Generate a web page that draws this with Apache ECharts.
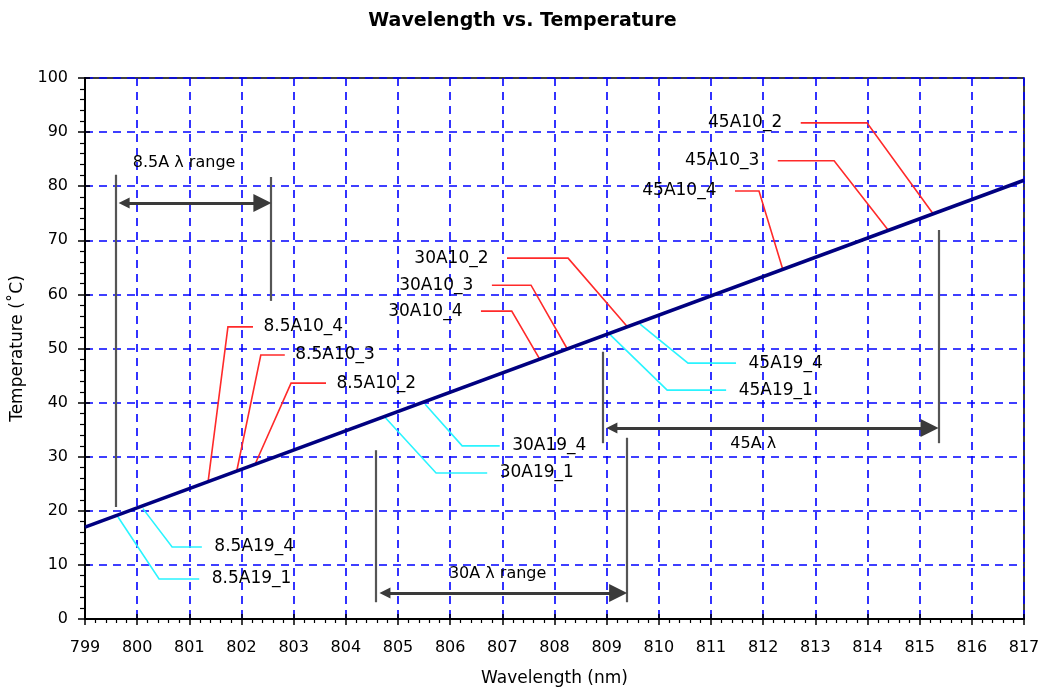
<!DOCTYPE html>
<html>
<head>
<meta charset="utf-8">
<script src="https://cdn.jsdelivr.net/npm/echarts@6/dist/echarts.min.js"></script>
<style>
  html, body { margin: 0; padding: 0; background: #fff; }
  #chart { width: 1045px; height: 692px; }
</style>
</head>
<body>
<div id="chart"></div>
<script>
// Axis ranges
const wavelengthRange = [799, 817];
const temperatureRange = [0, 100];

// Calibration line: wavelength (nm) -> temperature (°C)
const lineWavelengths = [799, 817];
const lineTemperatures = [17, 81.1];

// Red leaders (x10 devices): first point is the label end, last point sits on the line
const redNames = ['8.5A10_4', '8.5A10_3', '8.5A10_2', '30A10_2', '30A10_3', '30A10_4', '45A10_2', '45A10_3', '45A10_4'];
const redPaths = [
  [[802.22, 54.0], [801.74, 54.0], [801.36, 25.4]],
  [[802.83, 48.8], [802.37, 48.8], [801.91, 27.4]],
  [[803.62, 43.6], [802.95, 43.6], [802.26, 28.6]],
  [[807.09, 66.7], [808.26, 66.7], [809.41, 53.9]],
  [[806.80, 61.7], [807.55, 61.7], [808.24, 50.0]],
  [[806.59, 56.9], [807.18, 56.9], [807.72, 48.0]],
  [[812.72, 91.7], [813.99, 91.7], [815.25, 75.0]],
  [[812.28, 84.7], [813.36, 84.7], [814.41, 71.7]],
  [[811.46, 79.1], [811.92, 79.1], [812.38, 64.5]]
];

// Cyan leaders (x19 devices): first point is the label end, last point sits on the line
const cyanNames = ['8.5A19_4', '8.5A19_1', '30A19_4', '30A19_1', '45A19_4', '45A19_1'];
const cyanPaths = [
  [[801.24, 13.3], [800.67, 13.3], [800.11, 20.4]],
  [[801.19, 7.4], [800.42, 7.4], [799.63, 18.9]],
  [[806.95, 32.0], [806.23, 32.0], [805.52, 39.7]],
  [[806.71, 27.0], [805.73, 27.0], [804.75, 37.3]],
  [[811.48, 47.3], [810.56, 47.3], [809.64, 54.5]],
  [[811.29, 42.3], [810.16, 42.3], [809.06, 52.6]]
];

// Wavelength ranges: bracket bars and arrow between them
const rangeNames = ['8.5A λ range', '30A λ range', '45A λ'];
const rangeFrom = [799.58, 804.58, 808.93];
const rangeTo = [802.57, 809.39, 815.36];
const rangeArrowTemp = [76.9, 4.8, 35.3];
const rangeLeftBar = [[20.7, 82.1], [3.1, 31.2], [32.5, 49.4]];
const rangeRightBar = [[58.8, 81.7], [3.1, 33.5], [32.5, 71.9]];
const rangeLabelAt = [[800.90, 84.3], [806.91, 8.3], [811.81, 32.3]];

const FONT = 'DejaVu Sans';
const chart = echarts.init(document.getElementById('chart'), null, { renderer: 'canvas' });

// Label points placed at the free end of each leader
function leaderLabels(names, paths, gapRight, gapLeft) {
  return names.map((name, i) => {
    const p = paths[i];
    const toRight = p[1][0] < p[0][0];
    return {
      name: name,
      value: p[0],
      label: {
        position: toRight ? 'right' : 'left',
        distance: toRight ? gapRight : gapLeft
      }
    };
  });
}

const bars = [];
const arrows = [];
const headOffset = 0.17;
rangeNames.forEach((n, i) => {
  bars.push({ coords: [[rangeFrom[i], rangeLeftBar[i][0]], [rangeFrom[i], rangeLeftBar[i][1]]] });
  bars.push({ coords: [[rangeTo[i], rangeRightBar[i][0]], [rangeTo[i], rangeRightBar[i][1]]] });
  arrows.push({ coords: [[rangeFrom[i] + headOffset, rangeArrowTemp[i]], [rangeTo[i] - headOffset, rangeArrowTemp[i]]] });
});

const labelText = { fontFamily: FONT, fontSize: 17, color: '#000', textBorderWidth: 0 };
const textPoint = { opacity: 1, color: 'transparent' };

const option = {
  animation: false,
  backgroundColor: '#fff',
  title: {
    text: 'Wavelength vs. Temperature',
    left: 'center',
    top: 7,
    textStyle: { fontFamily: FONT, fontWeight: 'bold', fontSize: 19, color: '#000' }
  },
  grid: {
    left: 85, right: 21, top: 78, bottom: 73,
    show: true, borderColor: '#000', borderWidth: 1.5, backgroundColor: 'transparent'
  },
  xAxis: [{
    type: 'value',
    min: wavelengthRange[0], max: wavelengthRange[1], interval: 1,
    name: 'Wavelength (nm)', nameLocation: 'middle', nameGap: 51,
    nameTextStyle: { fontFamily: FONT, fontSize: 17, color: '#000' },
    axisLine: { show: true, onZero: false, lineStyle: { color: '#000', width: 2 } },
    axisTick: { show: true, inside: false, length: 6, lineStyle: { color: '#000', width: 1.5 } },
    minorTick: { show: true, splitNumber: 5, length: 4, lineStyle: { color: '#000', width: 1.2 } },
    axisLabel: { fontFamily: FONT, fontSize: 16, color: '#000', margin: 21 },
    splitLine: { show: true, lineStyle: { color: '#0000ff', width: 1.6, type: [8, 6] } }
  }, {
    type: 'value', position: 'bottom',
    min: wavelengthRange[0], max: wavelengthRange[1], interval: 1,
    axisLine: { show: false }, axisLabel: { show: false }, splitLine: { show: false },
    axisTick: { show: true, inside: true, length: 5, lineStyle: { color: '#000', width: 1.5 } }
  }],
  yAxis: [{
    type: 'value',
    min: temperatureRange[0], max: temperatureRange[1], interval: 10,
    name: 'Temperature (˚C)', nameLocation: 'middle', nameGap: 54, nameRotate: 90,
    nameTextStyle: { fontFamily: FONT, fontSize: 17, color: '#000' },
    axisLine: { show: true, onZero: false, lineStyle: { color: '#000', width: 2 } },
    axisTick: { show: true, inside: false, length: 7, lineStyle: { color: '#000', width: 1.5 } },
    minorTick: { show: true, splitNumber: 5, length: 5, lineStyle: { color: '#000', width: 1.2 } },
    axisLabel: { fontFamily: FONT, fontSize: 16, color: '#000', margin: 17 },
    splitLine: { show: true, lineStyle: { color: '#0000ff', width: 1.6, type: [8, 6] } }
  }, {
    type: 'value', position: 'left',
    min: temperatureRange[0], max: temperatureRange[1], interval: 10,
    axisLine: { show: false }, axisLabel: { show: false }, splitLine: { show: false },
    axisTick: { show: true, inside: true, length: 5, lineStyle: { color: '#000', width: 1.5 } }
  }],
  series: [
    {
      name: 'x10 leaders', type: 'lines', coordinateSystem: 'cartesian2d', polyline: true, silent: true, z: 3,
      lineStyle: { color: '#ff2a2a', width: 1.6, opacity: 1 },
      data: redPaths.map(p => ({ coords: p }))
    },
    {
      name: 'x19 leaders', type: 'lines', coordinateSystem: 'cartesian2d', polyline: true, silent: true, z: 3,
      lineStyle: { color: '#2af4ff', width: 1.6, opacity: 1 },
      data: cyanPaths.map(p => ({ coords: p }))
    },
    {
      name: 'range bars', type: 'lines', coordinateSystem: 'cartesian2d', silent: true, z: 3,
      symbol: ['none', 'none'],
      lineStyle: { color: '#555', width: 2.2, opacity: 1 },
      data: bars
    },
    {
      name: 'range arrows', type: 'lines', coordinateSystem: 'cartesian2d', silent: true, z: 3,
      symbol: ['triangle', 'triangle'], symbolSize: [11, 18],
      lineStyle: { color: '#3a3a3a', width: 3, opacity: 1 },
      data: arrows
    },
    {
      name: 'calibration', type: 'line', silent: true, z: 5,
      symbol: 'none',
      lineStyle: { color: '#000080', width: 3.5 },
      data: lineWavelengths.map((w, i) => [w, lineTemperatures[i]])
    },
    {
      name: 'x10 labels', type: 'scatter', silent: true, symbolSize: 1, z: 6,
      itemStyle: textPoint,
      label: Object.assign({ show: true, formatter: '{b}' }, labelText),
      data: leaderLabels(redNames, redPaths, 10, 18)
    },
    {
      name: 'x19 labels', type: 'scatter', silent: true, symbolSize: 1, z: 6,
      itemStyle: textPoint,
      label: Object.assign({ show: true, formatter: '{b}' }, labelText),
      data: leaderLabels(cyanNames, cyanPaths, 12, 12)
    },
    {
      name: 'range labels', type: 'scatter', silent: true, symbolSize: 1, z: 6,
      itemStyle: textPoint,
      label: Object.assign({ show: true, formatter: '{b}', position: 'inside' }, labelText, { fontSize: 16 }),
      data: rangeNames.map((n, i) => ({ name: n, value: rangeLabelAt[i] }))
    }
  ]
};

chart.setOption(option);
</script>
</body>
</html>
